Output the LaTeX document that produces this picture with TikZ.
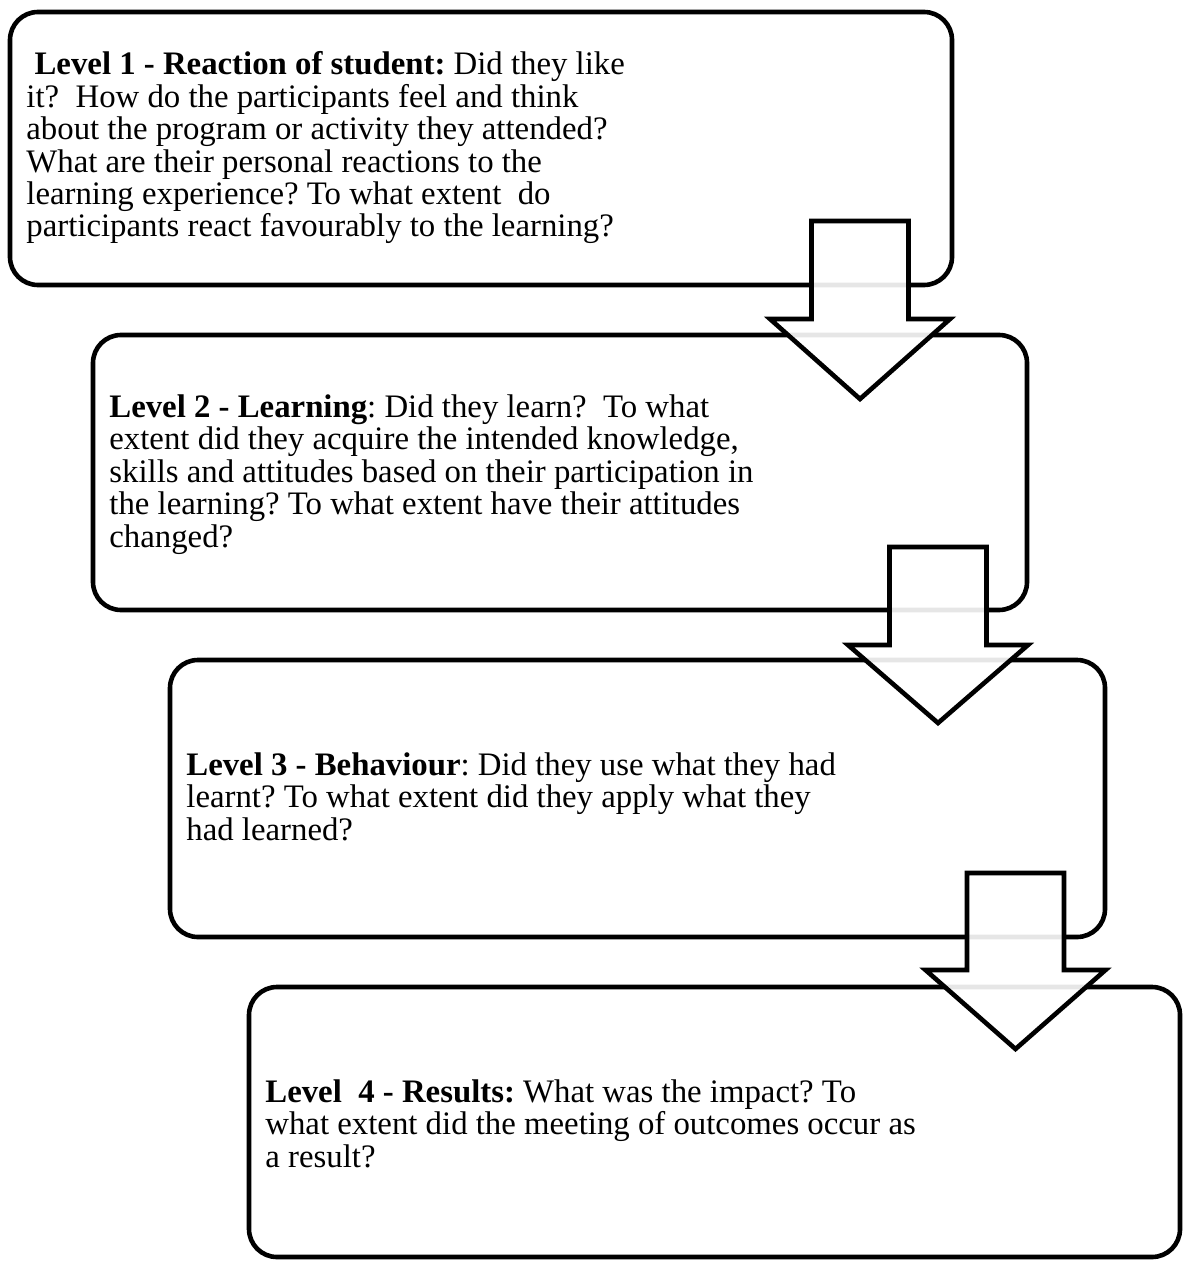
\documentclass[tikz,border=0pt]{standalone}
\usepackage{fontspec}
\setmainfont{Liberation Serif}
\usetikzlibrary{shapes,arrows}
\tikzstyle{level} = [rectangle, draw, line width=2.3pt, rounded corners=14pt, inner sep=0pt]
\tikzstyle{words} = [align=left, anchor=base west, inner sep=0pt, font=\fontsize{16.4}{16.2}\selectfont\frenchspacing]
\tikzstyle{down} = [draw, line width=2.3pt, fill=white, fill opacity=0.9, line join=miter]

\begin{document}
\begin{tikzpicture}[x=0.5pt,y=-0.5pt]
\useasboundingbox (0,0) rectangle (1182,1261);
\node [level, minimum width=471pt, minimum height=136.5pt] (lvl1) at (481,148.5) {};
\node [level, minimum width=467pt, minimum height=137.5pt] (lvl2) at (560,472.5) {};
\node [level, minimum width=467.5pt, minimum height=138.5pt] (lvl3) at (637.5,798.5) {};
\node [level, minimum width=465.5pt, minimum height=135pt] (lvl4) at (714.5,1122) {};
% text blocks, placed by the baseline of their last line
\node [words] (txt1) at (26,237) {\ \textbf{Level 1 - Reaction of student:} Did they like\\
it?\ \ How do the participants feel and think\\
about the program or activity they attended?\\
What are their personal reactions to the\\
learning experience? To what extent\ \ do\\
participants react favourably to the learning?};
\node [words] (txt2) at (109,547) {\textbf{Level 2 - Learning}: Did they learn?\ \ To what\\
extent did they acquire the intended knowledge,\\
skills and attitudes based on their participation in\\
the learning? To what extent have their attitudes\\
changed?};
\node [words] (txt3) at (186,840) {\textbf{Level 3 - Behaviour}: Did they use what they had\\
learnt? To what extent did they apply what they\\
had learned?};
\node [words] (txt4) at (265,1167) {\textbf{Level\ \ 4 - Results:} What was the impact? To\\
what extent did the meeting of outcomes occur as\\
a result?};
% block arrows between the levels
\draw [down] (860,221) ++(-48.5,0) -- ++(97,0) -- ++(0,98) -- ++(41.5,0) -- ++(-90,80) -- ++(-90,-80) -- ++(41.5,0) -- cycle;
\draw [down] (938,547) ++(-48.5,0) -- ++(97,0) -- ++(0,98) -- ++(41.5,0) -- ++(-90,78) -- ++(-90,-78) -- ++(41.5,0) -- cycle;
\draw [down] (1015.5,873) ++(-48.5,0) -- ++(97,0) -- ++(0,97) -- ++(41.5,0) -- ++(-90,79) -- ++(-90,-79) -- ++(41.5,0) -- cycle;
\end{tikzpicture}
\end{document}
